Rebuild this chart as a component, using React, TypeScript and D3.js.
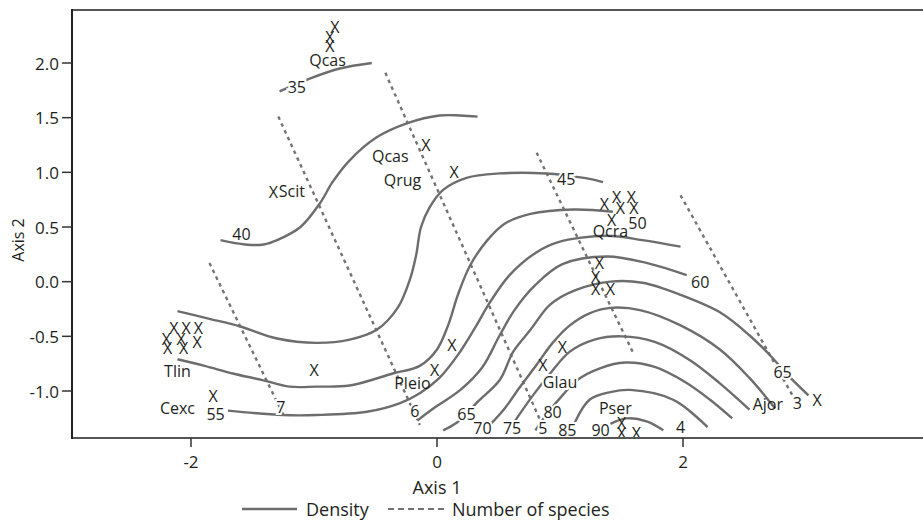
import React from "react";
import * as d3 from "d3";

// ---- axis ticks ----
const xTicks = [-2, 0, 2];
const yTicks = [2.0, 1.5, 1.0, 0.5, 0.0, -0.5, -1.0];

// ---- density contours (Axis 1, Axis 2) ----
const density35 = [[-1.28, 1.74], [-1.22, 1.77], [-1.03, 1.86], [-0.79, 1.95], [-0.53, 2.0]];
const density40 = [[-1.76, 0.38], [-1.56, 0.34], [-1.41, 0.34], [-1.3, 0.38], [-1.11, 0.5], [-0.95, 0.72], [-0.85, 0.91], [-0.71, 1.11], [-0.49, 1.32], [-0.24, 1.45], [0.02, 1.52], [0.19, 1.52], [0.33, 1.51]];
const density45 = [[-2.11, -0.27], [-1.85, -0.34], [-1.6, -0.41], [-1.3, -0.52], [-0.98, -0.56], [-0.71, -0.53], [-0.49, -0.44], [-0.32, -0.24], [-0.22, 0.02], [-0.17, 0.24], [-0.13, 0.5], [-0.06, 0.68], [0.05, 0.84], [0.24, 0.95], [0.51, 0.99], [0.89, 0.99], [1.06, 0.97], [1.24, 0.94], [1.35, 0.91]];
const density50 = [[-2.11, -0.71], [-1.89, -0.77], [-1.66, -0.84], [-1.42, -0.9], [-1.2, -0.96], [-0.98, -0.96], [-0.71, -0.95], [-0.36, -0.84], [-0.14, -0.77], [0.0, -0.62], [0.09, -0.4], [0.17, -0.12], [0.27, 0.15], [0.41, 0.38], [0.55, 0.53], [0.76, 0.62], [1.11, 0.66], [1.43, 0.64]];
const density55 = [[-1.7, -1.18], [-1.25, -1.22], [-0.98, -1.22], [-0.57, -1.19], [-0.3, -1.11], [-0.14, -1.02], [0.02, -0.88], [0.17, -0.67], [0.31, -0.42], [0.43, -0.19], [0.59, 0.06], [0.81, 0.27], [0.98, 0.36], [1.38, 0.42], [1.67, 0.38], [1.98, 0.32]];
const density60 = [[-0.16, -1.27], [-0.03, -1.16], [0.19, -0.99], [0.37, -0.78], [0.51, -0.49], [0.63, -0.26], [0.8, -0.03], [1.02, 0.16], [1.38, 0.23], [1.71, 0.17], [2.03, 0.06]];
const density65 = [[0.05, -1.36], [0.16, -1.29], [0.24, -1.21], [0.33, -1.1], [0.51, -0.9], [0.62, -0.64], [0.76, -0.44], [0.92, -0.21], [1.12, -0.08], [1.41, 0.0], [1.67, -0.01], [1.98, -0.12], [2.3, -0.28], [2.54, -0.49], [2.73, -0.7], [2.83, -0.83], [3.02, -1.04]];
const density70 = [[0.43, -1.31], [0.55, -1.16], [0.67, -0.97], [0.81, -0.76], [0.94, -0.56], [1.08, -0.4], [1.24, -0.29], [1.41, -0.24], [1.65, -0.26], [1.98, -0.4], [2.3, -0.62], [2.54, -0.88], [2.75, -1.16]];
const density75 = [[0.63, -1.28], [0.78, -1.04], [0.92, -0.84], [1.08, -0.64], [1.28, -0.53], [1.5, -0.5], [1.77, -0.55], [2.06, -0.72], [2.3, -0.93], [2.54, -1.17]];
const density80 = [[0.8, -1.36], [0.9, -1.2], [1.02, -1.04], [1.14, -0.9], [1.33, -0.79], [1.53, -0.74], [1.77, -0.78], [2.02, -0.92], [2.22, -1.08], [2.4, -1.25]];
const density85 = [[1.12, -1.29], [1.24, -1.08], [1.41, -1.01], [1.57, -0.99], [1.92, -1.08], [2.2, -1.33]];
const density90 = [[1.41, -1.3], [1.54, -1.25], [1.71, -1.28], [1.84, -1.36]];
const densityCurves = [density35, density40, density45, density50, density55, density60, density65, density70, density75, density80, density85, density90];

// ---- number of species isolines ----
const species7 = [[-1.85, 0.17], [-1.24, -1.24]];
const species6 = [[-1.29, 1.51], [-0.14, -1.31]];
const species5 = [[-0.42, 1.91], [0.84, -1.27]];
const species4 = [[0.81, 1.18], [1.59, -0.64]];
const species3 = [[1.98, 0.79], [2.89, -1.04]];
const speciesLines = [species7, species6, species5, species4, species3];

// ---- sites (X markers) ----
const siteX = [-0.83, -0.87, -0.87, -0.09, 0.14, -1.33, -2.14, -2.04, -1.94, -2.2, -2.08, -1.95, -2.19, -2.06, -1.0, -1.82, -0.02, 0.12, 0.86, 1.02, 1.36, 1.46, 1.58, 1.49, 1.6, 1.42, 1.32, 1.29, 1.29, 1.41, 1.5, 1.5, 1.62, 3.09];
const siteY = [2.33, 2.24, 2.16, 1.25, 1.0, 0.82, -0.42, -0.42, -0.42, -0.52, -0.52, -0.55, -0.61, -0.61, -0.81, -1.05, -0.81, -0.58, -0.76, -0.6, 0.71, 0.77, 0.77, 0.67, 0.67, 0.56, 0.17, 0.04, -0.07, -0.07, -1.29, -1.38, -1.38, -1.08];

// ---- species names ----
const speciesNames = ["Qcas", "Qcas", "Qrug", "Scit", "Tlin", "Cexc", "Pleio", "Glau", "Qcra", "Pser", "Ajor"];
const speciesNameX = [-0.89, -0.38, -0.28, -1.18, -2.11, -2.11, -0.2, 1.0, 1.41, 1.45, 2.69];
const speciesNameY = [2.03, 1.15, 0.93, 0.83, -0.82, -1.16, -0.93, -0.92, 0.46, -1.16, -1.12];

// ---- contour labels ----
const contourText = ["35", "40", "45", "50", "55", "60", "65", "65", "70", "75", "80", "85", "90", "7", "6", "5", "4", "3"];
const contourX = [-1.14, -1.59, 1.05, 1.63, -1.8, 2.14, 2.81, 0.24, 0.37, 0.61, 0.94, 1.06, 1.33, -1.27, -0.18, 0.86, 1.98, 2.93];
const contourY = [1.78, 0.44, 0.94, 0.54, -1.21, 0.0, -0.83, -1.21, -1.34, -1.34, -1.19, -1.36, -1.36, -1.15, -1.18, -1.34, -1.33, -1.11];

const legendItems = ["Density", "Number of species"];

const W = 923;
const H = 521;
const FONT = "'Open Sans', 'Noto Sans', sans-serif";
const TEXT = "#231f20";
const LINE = "#6d6d6d";

const fmtY = (v: number) => d3.format(".1f")(v).replace("\u2212", "-");

export default function App() {
  const x = d3.scaleLinear().domain([-2, 2]).range([191, 683]);
  const y = d3.scaleLinear().domain([-1, 2]).range([391, 63]);
  const left = 72, top = 10, bottom = 438;

  const curve = d3
    .line<number[]>()
    .x((d) => x(d[0]))
    .y((d) => y(d[1]))
    .curve(d3.curveCatmullRom.alpha(0.5));

  return (
    <svg
      width={W}
      height={H}
      style={{ position: "absolute", left: 0, top: 0, background: "#fff" }}
      fontFamily={FONT}
    >
      <rect x={0} y={0} width={W} height={H} fill="#fff" />

      {/* species isolines */}
      {speciesLines.map((l, i) => (
        <path
          key={"s" + i}
          d={curve(l) || ""}
          fill="none"
          stroke="#737373"
          strokeWidth={2.4}
          strokeDasharray="3.5 4"
        />
      ))}

      {/* density contours */}
      {densityCurves.map((c, i) => (
        <path key={"d" + i} d={curve(c) || ""} fill="none" stroke={LINE} strokeWidth={2.4} />
      ))}

      {/* contour labels */}
      {contourText.map((t, i) => (
        <text
          key={"c" + i}
          x={x(contourX[i])}
          y={y(contourY[i])}
          textAnchor="middle"
          dominantBaseline="central"
          fontSize={16}
          fill={TEXT}
          stroke="#fff"
          strokeWidth={4}
          paintOrder="stroke"
        >
          {t}
        </text>
      ))}

      {/* species names */}
      {speciesNames.map((t, i) => (
        <text
          key={"n" + i}
          x={x(speciesNameX[i])}
          y={y(speciesNameY[i])}
          textAnchor="middle"
          dominantBaseline="central"
          fontSize={16}
          fill={TEXT}
          stroke="#fff"
          strokeWidth={i === 7 ? 4 : 0}
          paintOrder="stroke"
        >
          {t}
        </text>
      ))}

      {/* site markers */}
      {siteX.map((v, i) => (
        <text
          key={"x" + i}
          x={x(v)}
          y={y(siteY[i])}
          textAnchor="middle"
          dominantBaseline="central"
          fontSize={16}
          fill={TEXT}
        >
          X
        </text>
      ))}

      {/* frame */}
      <line x1={left} y1={top} x2={W + 5} y2={top} stroke="#555" strokeWidth={2} />
      <line x1={left} y1={bottom} x2={W + 5} y2={bottom} stroke="#555" strokeWidth={2} />
      <line x1={left} y1={top - 1} x2={left} y2={bottom + 1} stroke="#222" strokeWidth={2} />

      {/* y axis */}
      {yTicks.map((t) => (
        <g key={"yt" + t}>
          <line x1={left - 10} x2={left} y1={y(t)} y2={y(t)} stroke="#333" strokeWidth={1.5} />
          <text
            x={left - 13}
            y={y(t)}
            textAnchor="end"
            dominantBaseline="central"
            fontSize={17}
            fill={TEXT}
          >
            {fmtY(t)}
          </text>
        </g>
      ))}
      <text
        transform={`translate(18,240) rotate(-90)`}
        textAnchor="middle"
        dominantBaseline="central"
        fontSize={16}
        fill={TEXT}
      >
        Axis 2
      </text>

      {/* x axis */}
      {xTicks.map((t) => (
        <g key={"xt" + t}>
          <line x1={x(t)} x2={x(t)} y1={bottom} y2={bottom + 9} stroke="#333" strokeWidth={1.5} />
          <text x={x(t)} y={468} textAnchor="middle" fontSize={17} fill={TEXT}>
            {String(t)}
          </text>
        </g>
      ))}
      <text x={x(0)} y={494} textAnchor="middle" fontSize={18} fill={TEXT}>
        Axis 1
      </text>

      {/* legend */}
      <line x1={242} x2={297} y1={509} y2={509} stroke={LINE} strokeWidth={2.4} />
      <text x={306} y={516} fontSize={18} fill={TEXT}>
        {legendItems[0]}
      </text>
      <line x1={388} x2={446} y1={509} y2={509} stroke="#737373" strokeWidth={2} strokeDasharray="6 4" />
      <text x={452} y={516} fontSize={18} fill={TEXT}>
        {legendItems[1]}
      </text>
    </svg>
  );
}
